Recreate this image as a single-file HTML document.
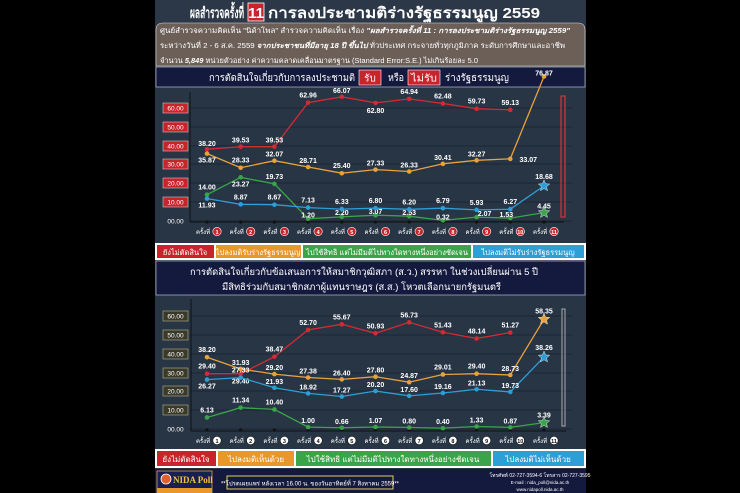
<!DOCTYPE html>
<html><head><meta charset="utf-8"><style>
html,body{margin:0;padding:0;background:#000;}
svg{display:block;font-family:"Liberation Sans","DejaVu Sans",sans-serif;}
</style></head><body>
<svg width="740" height="493" viewBox="0 0 740 493" xmlns="http://www.w3.org/2000/svg">
<rect width="740" height="493" fill="#000"/>
<rect x="155" y="0" width="431" height="493" fill="#283545"/>
<!-- title -->
<rect x="155" y="0" width="431" height="24" fill="#2c3848"/>
<text x="190" y="18" fill="#fff" font-size="15" font-weight="bold" textLength="54" lengthAdjust="spacingAndGlyphs">ผลสำรวจครั้งที่</text>
<rect x="248" y="3" width="16" height="18" fill="#c8242b" stroke="#fff" stroke-width="0.8"/>
<text x="256" y="18" fill="#fff" font-size="15" font-weight="bold" text-anchor="middle">11</text>
<text x="268" y="18" fill="#fff" font-size="15" font-weight="bold" textLength="272" lengthAdjust="spacingAndGlyphs">การลงประชามติร่างรัฐธรรมนูญ 2559</text>
<!-- info box -->
<path d="M156 66 V30 Q156 23 163 23 H578 Q585 23 585 30 V66 Z" fill="#6b5f58" stroke="#ddd" stroke-width="0.6"/>
<text x="160" y="33" fill="#fff" font-size="7.2" textLength="410" lengthAdjust="spacingAndGlyphs">ศูนย์สำรวจความคิดเห็น "นิด้าโพล" สำรวจความคิดเห็น เรื่อง <tspan font-weight="bold" font-style="italic">"ผลสำรวจครั้งที่ 11 : การลงประชามติร่างรัฐธรรมนูญ 2559"</tspan></text>
<text x="160" y="48" fill="#fff" font-size="7.2" textLength="405" lengthAdjust="spacingAndGlyphs">ระหว่างวันที่ 2 - 6 ส.ค. 2559 <tspan font-weight="bold" font-style="italic">จากประชาชนที่มีอายุ 18 ปี ขึ้นไป</tspan> ทั่วประเทศ กระจายทั่วทุกภูมิภาค ระดับการศึกษาและอาชีพ</text>
<text x="160" y="63" fill="#fff" font-size="7.2" textLength="318" lengthAdjust="spacingAndGlyphs">จำนวน <tspan font-weight="bold" font-style="italic">5,849</tspan> หน่วยตัวอย่าง ค่าความคลาดเคลื่อนมาตรฐาน (Standard Error:S.E.) ไม่เกินร้อยละ 5.0</text>
<!-- subtitle 1 -->
<rect x="156" y="67" width="429" height="20" fill="#141a3e" stroke="#cfd3dc" stroke-width="0.6"/>
<text x="209" y="81" fill="#fff" font-size="10" textLength="146" lengthAdjust="spacingAndGlyphs">การตัดสินใจเกี่ยวกับการลงประชามติ</text>
<rect x="359" y="70" width="22" height="15" fill="#c8242b" stroke="#fff" stroke-width="0.6"/>
<text x="370" y="81.5" fill="#fff" font-size="10" text-anchor="middle">รับ</text>
<text x="388" y="81" fill="#fff" font-size="10" textLength="16" lengthAdjust="spacingAndGlyphs">หรือ</text>
<rect x="408" y="70" width="32" height="15" fill="#c8242b" stroke="#fff" stroke-width="0.6"/>
<text x="424" y="81.5" fill="#fff" font-size="10" text-anchor="middle" textLength="26" lengthAdjust="spacingAndGlyphs">ไม่รับ</text>
<text x="445" y="81" fill="#fff" font-size="10" textLength="64" lengthAdjust="spacingAndGlyphs">ร่างรัฐธรรมนูญ</text>

<!-- chart1 -->
<g stroke="#1a2230" stroke-width="0.8">
<line x1="190" x2="572" y1="108" y2="108"/><line x1="190" x2="572" y1="127" y2="127"/>
<line x1="190" x2="572" y1="146" y2="146"/><line x1="190" x2="572" y1="164" y2="164"/>
<line x1="190" x2="572" y1="183" y2="183"/><line x1="190" x2="572" y1="202" y2="202"/>
<line x1="190" x2="572" y1="221" y2="221"/>
</g>
<line x1="190" y1="92" x2="190" y2="222" stroke="#111" stroke-width="1"/>
<line x1="190" y1="222" x2="564" y2="222" stroke="#111" stroke-width="1"/>
<rect x="561" y="96" width="4" height="121" fill="none" stroke="#d8333a" stroke-width="1.2"/>
<g font-size="6.5" fill="#fff" text-anchor="middle">
<rect x="163" y="103" width="25" height="10" fill="#c8242b" stroke="#ddd" stroke-width="0.5"/><text x="175.5" y="110.5">60.00</text>
<rect x="163" y="122" width="25" height="10" fill="#c8242b" stroke="#ddd" stroke-width="0.5"/><text x="175.5" y="129.5">50.00</text>
<rect x="163" y="141" width="25" height="10" fill="#c8242b" stroke="#ddd" stroke-width="0.5"/><text x="175.5" y="148.5">40.00</text>
<rect x="163" y="159" width="25" height="10" fill="#c8242b" stroke="#ddd" stroke-width="0.5"/><text x="175.5" y="166.5">30.00</text>
<rect x="163" y="178" width="25" height="10" fill="#c8242b" stroke="#ddd" stroke-width="0.5"/><text x="175.5" y="185.5">20.00</text>
<rect x="163" y="197" width="25" height="10" fill="#c8242b" stroke="#ddd" stroke-width="0.5"/><text x="175.5" y="204.5">10.00</text>
<text x="175.5" y="223.5" fill="#fff">00.00</text>
</g>
<g id="plot1"></g>

<!-- legend 1 -->
<rect x="155" y="243" width="431" height="17" fill="#fff"/>
<rect x="157" y="245" width="57" height="13" fill="#c8242b"/><text x="185" y="255" fill="#fff" font-size="7.5" text-anchor="middle">ยังไม่ตัดสินใจ</text>
<rect x="216" y="245" width="85" height="13" fill="#e9962b"/><text x="258" y="255" fill="#fff" font-size="7.5" text-anchor="middle">ไปลงมติรับร่างรัฐธรรมนูญ</text>
<rect x="303" y="245" width="168" height="13" fill="#3aa548"/><text x="387" y="255" fill="#fff" font-size="7.5" text-anchor="middle">ไปใช้สิทธิ แต่ไม่มีมติไปทางใดทางหนึ่งอย่างชัดเจน</text>
<rect x="473" y="245" width="111" height="13" fill="#2d9ed6"/><text x="528" y="255" fill="#fff" font-size="7.5" text-anchor="middle">ไปลงมติไม่รับร่างรัฐธรรมนูญ</text>

<!-- subtitle 2 -->
<rect x="156" y="261" width="429" height="34" fill="#141a3e" stroke="#cfd3dc" stroke-width="0.6"/>
<text x="190" y="275" fill="#fff" font-size="9.5" textLength="348" lengthAdjust="spacingAndGlyphs">การตัดสินใจเกี่ยวกับข้อเสนอการให้สมาชิกวุฒิสภา (ส.ว.) สรรหา ในช่วงเปลี่ยนผ่าน 5 ปี</text>
<text x="222" y="290" fill="#fff" font-size="9.5" textLength="279" lengthAdjust="spacingAndGlyphs">มีสิทธิร่วมกับสมาชิกสภาผู้แทนราษฎร (ส.ส.) โหวตเลือกนายกรัฐมนตรี</text>

<!-- chart2 axes -->
<g stroke="#1a2230" stroke-width="0.8">
<line x1="190" x2="572" y1="316" y2="316"/><line x1="190" x2="572" y1="335" y2="335"/>
<line x1="190" x2="572" y1="354" y2="354"/><line x1="190" x2="572" y1="373" y2="373"/>
<line x1="190" x2="572" y1="391" y2="391"/><line x1="190" x2="572" y1="410" y2="410"/>
<line x1="190" x2="572" y1="429" y2="429"/>
</g>
<line x1="191" y1="299" x2="191" y2="431" stroke="#111" stroke-width="1"/>
<line x1="191" y1="431" x2="566" y2="431" stroke="#111" stroke-width="1"/>
<rect x="562" y="309" width="3" height="117" fill="none" stroke="#aaa" stroke-width="1"/>
<g font-size="6.5" fill="#fff" text-anchor="middle">
<rect x="163" y="311" width="25" height="10" fill="#3a3a2a" stroke="#b7b38a" stroke-width="0.6"/><text x="175.5" y="318.5">60.00</text>
<rect x="163" y="330" width="25" height="10" fill="#3a3a2a" stroke="#b7b38a" stroke-width="0.6"/><text x="175.5" y="337.5">50.00</text>
<rect x="163" y="349" width="25" height="10" fill="#3a3a2a" stroke="#b7b38a" stroke-width="0.6"/><text x="175.5" y="356.5">40.00</text>
<rect x="163" y="368" width="25" height="10" fill="#3a3a2a" stroke="#b7b38a" stroke-width="0.6"/><text x="175.5" y="375.5">30.00</text>
<rect x="163" y="386" width="25" height="10" fill="#3a3a2a" stroke="#b7b38a" stroke-width="0.6"/><text x="175.5" y="393.5">20.00</text>
<rect x="163" y="405" width="25" height="10" fill="#3a3a2a" stroke="#b7b38a" stroke-width="0.6"/><text x="175.5" y="412.5">10.00</text>
<text x="175.5" y="431.5">00.00</text>
</g>
<g id="plot2"></g>

<!-- legend 2 -->
<rect x="155" y="449" width="431" height="19" fill="#fff"/>
<rect x="157" y="451" width="59" height="15" fill="#c8242b"/><text x="186" y="462" fill="#fff" font-size="8" text-anchor="middle">ยังไม่ตัดสินใจ</text>
<rect x="218" y="451" width="76" height="15" fill="#e9962b"/><text x="256" y="462" fill="#fff" font-size="8" text-anchor="middle">ไปลงมติเห็นด้วย</text>
<rect x="296" y="451" width="195" height="15" fill="#3aa548"/><text x="393" y="462" fill="#fff" font-size="8" text-anchor="middle">ไปใช้สิทธิ แต่ไม่มีมติไปทางใดทางหนึ่งอย่างชัดเจน</text>
<rect x="493" y="451" width="91" height="15" fill="#2d9ed6"/><text x="538" y="462" fill="#fff" font-size="8" text-anchor="middle">ไปลงมติไม่เห็นด้วย</text>

<!-- footer -->
<rect x="155" y="469" width="431" height="24" fill="#141a3e"/>
<rect x="157" y="471" width="55" height="22" fill="#1a1f52" stroke="#c9a84a" stroke-width="0.8"/>
<circle cx="166" cy="479" r="5" fill="#e06030" stroke="#fff" stroke-width="0.8"/>
<text x="173" y="483" fill="#f3c23a" font-size="9" font-family="Liberation Serif,serif" font-weight="bold">NIDA Poll</text>
<rect x="157" y="488" width="55" height="5" fill="#e9962b"/>
<rect x="227" y="476" width="166" height="13" fill="#141a3e" stroke="#e0d060" stroke-width="1"/>
<text x="310" y="485.5" fill="#fff" font-size="6" text-anchor="middle">**โปรดเผยแพร่ หลังเวลา 16.00 น. ของวันอาทิตย์ที่ 7 สิงหาคม 2559**</text>
<text x="540" y="477" fill="#fff" font-size="5" text-anchor="middle">โทรศัพท์ 02-727-3594-6 โทรสาร 02-727-3595</text>
<text x="540" y="484" fill="#fff" font-size="4.5" text-anchor="middle">E-mail : nida_poll@nida.ac.th</text>
<text x="540" y="491" fill="#fff" font-size="4.5" text-anchor="middle">www.nidapoll.nida.ac.th</text>

<script>
var NS="http://www.w3.org/2000/svg";
function el(p,t,a,txt){var e=document.createElementNS(NS,t);for(var k in a)e.setAttribute(k,a[k]);if(txt!=null)e.textContent=txt;p.appendChild(e);return e;}
function xs(i){return 207+33.7*i;}
function star(cx,cy,r){var pts=[];for(var i=0;i<10;i++){var rr=i%2?r*0.45:r;var a=-Math.PI/2+i*Math.PI/5;pts.push((cx+rr*Math.cos(a)).toFixed(1)+","+(cy+rr*Math.sin(a)).toFixed(1));}return pts.join(" ");}
function draw(id,base,series,labY){
 var g=document.getElementById(id);
 for(var i=0;i<11;i++){el(g,"circle",{cx:xs(i),cy:base+1,r:1.6,fill:"#111"});}
 series.forEach(function(s){
  var pts=s.d.map(function(v,i){return xs(i)+","+(base-v*1.88).toFixed(1);}).join(" ");
  el(g,"polyline",{points:pts,fill:"none",stroke:s.c,"stroke-width":1.3});
  s.d.forEach(function(v,i){var y=base-v*1.88;
   if(i==10&&s.star){el(g,"polygon",{points:star(xs(i),y,6),fill:s.c,stroke:"#fff","stroke-width":0.4});}
   else el(g,"circle",{cx:xs(i),cy:y,r:2.3,fill:s.c});
   var off=s.off[i]!==undefined?s.off[i]:-5;
   el(g,"text",{x:xs(i)+(s.dx&&s.dx[i]||0),y:y+off,fill:"#fff","font-size":7,"font-weight":"bold","text-anchor":"middle"},v.toFixed(2));
  });
 });
 for(var i=0;i<11;i++){
  el(g,"text",{x:xs(i)-4,y:labY,fill:"#fff","font-size":6,"text-anchor":"middle"},"ครั้งที่");
  el(g,"circle",{cx:xs(i)+10,cy:labY-2.5,r:4.2,fill:id=="plot1"?"#c8242b":"#fff",stroke:id=="plot1"?"#fff":"#111","stroke-width":0.6});
  el(g,"text",{x:xs(i)+10,y:labY,fill:id=="plot1"?"#fff":"#111","font-size":5.5,"font-weight":"bold","text-anchor":"middle"},String(i+1));
 }
}
draw("plot1",221,[
 {c:"#d52a33",d:[38.20,39.53,39.53,62.96,66.07,62.80,64.94,62.48,59.73,59.13],off:[-3,-4,-4,-5,-4,10,-5,-5,-5,-5]},
 {c:"#e9a23b",d:[35.87,28.33,32.07,28.71,25.40,27.33,26.33,30.41,32.27,33.07,76.87],off:[9,-5,-4,-4,-5,-4,-4,-4,-4,3,-1],dx:{9:18}},
 {c:"#3aa548",star:1,d:[14.00,23.27,19.73,1.20,2.20,3.07,2.53,0.32,2.07,1.53,4.45],off:[-5,9,-5,-1,-2,-1,-1,-1,-1,-1,-4],dx:{8:8,9:-4}},
 {c:"#2d9ed6",star:1,d:[11.93,8.87,8.67,7.13,6.33,6.80,6.20,6.79,5.93,6.27,18.68],off:[9,-5,-5,-5,-5,-5,-5,-5,-5,-5,-7]}
],234);
draw("plot2",429,[
 {c:"#d52a33",d:[29.40,29.40,38.47,52.70,55.67,50.93,56.73,51.43,48.14,51.27],off:[-5,10,-5,-5,-5,-5,-5,-5,-5,-5]},
 {c:"#e9a23b",star:1,d:[38.20,31.93,29.20,27.38,26.40,27.80,24.87,29.01,29.40,28.73,58.35],off:[-5,-4,-4,-4,-4,-4,-4,-5,-5,-4,-6]},
 {c:"#3aa548",star:1,d:[6.13,11.34,10.40,1.00,0.66,1.07,0.80,0.40,1.33,0.87,3.39],off:[-5,-5,-5,-4,-4,-4,-4,-4,-4,-4,-5]},
 {c:"#2d9ed6",star:1,d:[26.27,27.33,21.93,18.92,17.27,20.20,17.60,19.16,21.13,19.73,38.26],off:[9,-5,-4,-4,-4,-4,-4,-4,-4,-4,-7]}
],443);
</script>
</svg>
</body></html>
